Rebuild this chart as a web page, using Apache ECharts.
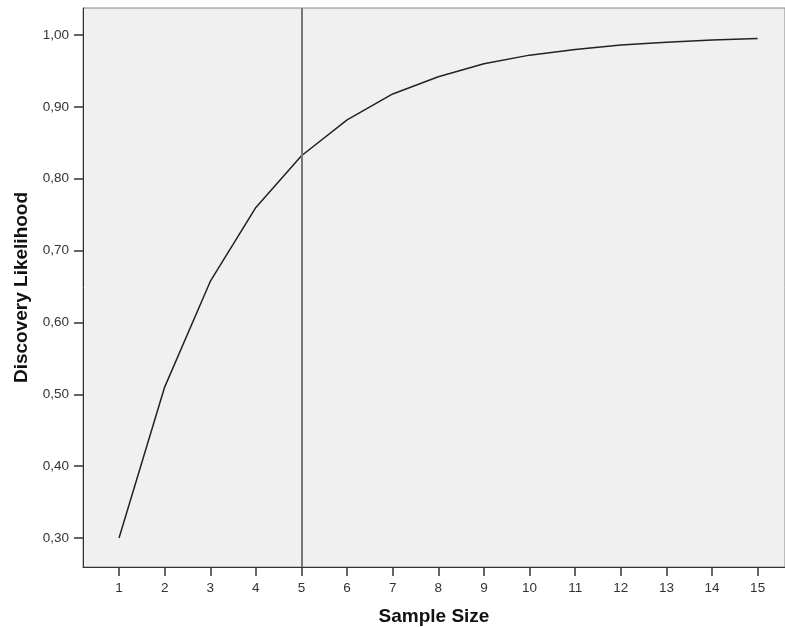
<!DOCTYPE html>
<html>
<head>
<meta charset="utf-8">
<script src="https://cdn.jsdelivr.net/npm/echarts@6/dist/echarts.min.js"></script>
<style>html,body{margin:0;padding:0;background:#fff}#c{width:785px;height:627px}</style>
</head>
<body>
<div id="c"></div>
<script>
const sampleSizes = [1,2,3,4,5,6,7,8,9,10,11,12,13,14,15];
const likelihood = [0.30,0.51,0.657,0.76,0.832,0.882,0.918,0.942,0.96,0.972,0.98,0.986,0.99,0.993,0.995];
const yTicks = [0.3,0.4,0.5,0.6,0.7,0.8,0.9,1.0];
const markedSize = 5;

const chart = echarts.init(document.getElementById('c'), null, {renderer:'canvas'});
chart.setOption({
  animation:false,
  grid:{left:83,top:8,right:0,bottom:60,outerBoundsMode:'none',containLabel:false,show:true,backgroundColor:'#f0f0f0',borderColor:'#888',borderWidth:1},
  xAxis:{
    type:'value',min:0.21,max:15.6,
    name:'Sample Size',nameLocation:'middle',nameGap:40,
    nameTextStyle:{fontFamily:'Liberation Sans',fontWeight:'bold',fontSize:19,color:'#111'},
    axisLine:{show:true,lineStyle:{color:'#333',width:1}},
    axisTick:{show:true,customValues:sampleSizes,length:9,lineStyle:{color:'#333',width:1.5}},
    axisLabel:{customValues:sampleSizes,fontFamily:'Liberation Sans',fontSize:13.5,color:'#333',margin:14},
    splitLine:{show:false}
  },
  yAxis:{
    type:'value',min:0.2596,max:1.0376,
    name:'Discovery Likelihood',nameLocation:'middle',nameGap:52,
    nameTextStyle:{fontFamily:'Liberation Sans',fontWeight:'bold',fontSize:19,color:'#111'},
    axisLine:{show:true,lineStyle:{color:'#333',width:1}},
    axisTick:{show:true,customValues:yTicks,length:9,lineStyle:{color:'#333',width:1.5}},
    axisLabel:{customValues:yTicks,fontFamily:'Liberation Sans',fontSize:13.5,color:'#333',margin:14,
      formatter:v=>v.toFixed(2).replace('.',',')},
    splitLine:{show:false}
  },
  series:[{
    type:'line',
    data:sampleSizes.map((s,i)=>[s,likelihood[i]]),
    showSymbol:false,
    lineStyle:{color:'#222',width:1.5},
    markLine:{
      silent:true,symbol:['none','none'],label:{show:false},
      lineStyle:{color:'#777',width:2,type:'solid'},
      data:[{xAxis:markedSize}]
    }
  }]
});
</script>
</body>
</html>
